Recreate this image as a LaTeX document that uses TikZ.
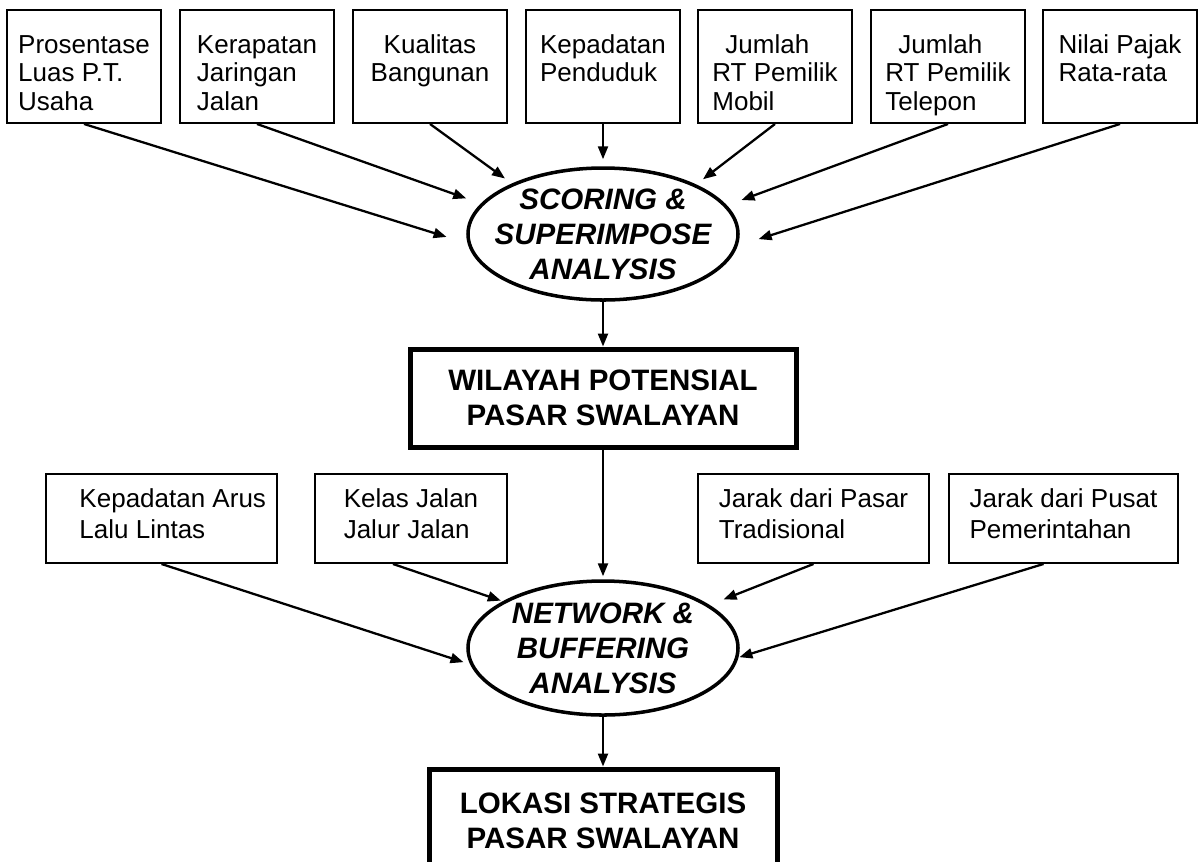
\documentclass[tikz,border=0pt]{standalone}
\usepackage{fontspec}
\setmainfont{Liberation Sans}
\usetikzlibrary{arrows.meta,shapes.geometric}

\begin{document}
\begin{tikzpicture}[
    factor/.style={draw, line width=1.1pt, minimum width=3.08cm, minimum height=2.26cm,
        align=left, text height=49.5pt, text depth=0pt, font=\fontsize{14.8}{16}\selectfont},
    syarat/.style={factor, minimum height=1.78cm, text height=22.2pt,
        font=\fontsize{14.8}{17.6}\selectfont},
    proses/.style={draw, ellipse, line width=2pt, minimum width=5.4cm, minimum height=2.64cm,
        inner xsep=-0.3cm, inner ysep=-0.2cm, align=center,
        font=\fontsize{16.8}{19.9}\selectfont\bfseries\itshape},
    hasil/.style={draw, line width=2.85pt, align=center,
        font=\fontsize{16.8}{19.9}\selectfont\bfseries},
    panah/.style={-{Triangle[length=0.26cm,width=0.2cm]}, line width=1.3pt}
]
    \useasboundingbox (0,0) rectangle (23.96,-17.22);
    \clip (0,0) rectangle (23.96,-17.22);

    % Faktor wilayah potensial
    \node[factor] (f1) at (1.68,-1.33)  {Prosentase\\Luas P.T.\\Usaha};
    \node[factor] (f2) at (5.14,-1.33)  {Kerapatan\\Jaringan\\Jalan};
    \node[factor, align=center] (f3) at (8.6,-1.33) {Kualitas\\Bangunan\\\strut};
    \node[factor] (f4) at (12.06,-1.33) {Kepadatan\\Penduduk\\\strut};
    \node[factor] (f5) at (15.5,-1.33)  {\hspace*{0.5em}Jumlah\\RT Pemilik\\Mobil};
    \node[factor] (f6) at (18.96,-1.33) {\hspace*{0.5em}Jumlah\\RT Pemilik\\Telepon};
    \node[factor] (f7) at (22.4,-1.33)  {Nilai Pajak\\Rata-rata\\\strut};

    % Analisis pertama
    \node[proses] (scoring) at (12.06,-4.68) {SCORING \&\\SUPERIMPOSE\\ANALYSIS};
    \node[hasil, minimum width=7.72cm, minimum height=1.96cm] (wilayah) at (12.06,-7.96)
        {WILAYAH POTENSIAL\\PASAR SWALAYAN};

    % Faktor lokasi strategis
    \node[syarat, minimum width=4.62cm] (la) at (3.23,-10.37)
        {\hspace*{0.45cm}Kepadatan Arus\\\hspace*{0.45cm}Lalu Lintas};
    \node[syarat, minimum width=3.84cm] (lb) at (8.22,-10.37)  {Kelas Jalan\\Jalur Jalan};
    \node[syarat, minimum width=4.62cm] (lc) at (16.27,-10.37) {Jarak dari Pasar\\Tradisional};
    \node[syarat, minimum width=4.58cm] (ld) at (21.27,-10.37) {Jarak dari Pusat\\Pemerintahan};

    % Analisis kedua
    \node[proses, minimum height=2.68cm] (network) at (12.06,-12.96) {NETWORK \&\\BUFFERING\\ANALYSIS};
    \node[hasil, minimum width=6.96cm, minimum height=2.08cm] (lokasi) at (12.06,-16.42)
        {LOKASI STRATEGIS\\PASAR SWALAYAN};

    % Panah
    \foreach \src/\ang/\gap in {f1/184.6/0.44, f2/166.7/0.31, f3/151.5/0.17,
                                f5/28.5/0.17, f6/13.3/0.31, f7/355.4/0.44} {
        \draw[panah, shorten >=\gap cm] (\src.south) -- (scoring.\ang);
    }
    \draw[panah, shorten >=0.14cm] (f4) -- (scoring);
    \draw[panah] (scoring) -- (wilayah);
    \draw[panah, shorten >=0.06cm] (wilayah) -- (network);
    \draw[panah, shorten >=0.14cm] (la.south) -- (network.187.1);
    \draw[panah, shorten >=0.04cm] ([xshift=-0.36cm]lb.south) -- (network.155.4);
    \draw[panah, shorten >=0.3cm] (lc.south) -- (network.22.9);
    \draw[panah, shorten >=0.02cm] ([xshift=-0.4cm]ld.south) -- (network.356.5);
    \draw[panah] (network) -- (lokasi);
\end{tikzpicture}
\end{document}
